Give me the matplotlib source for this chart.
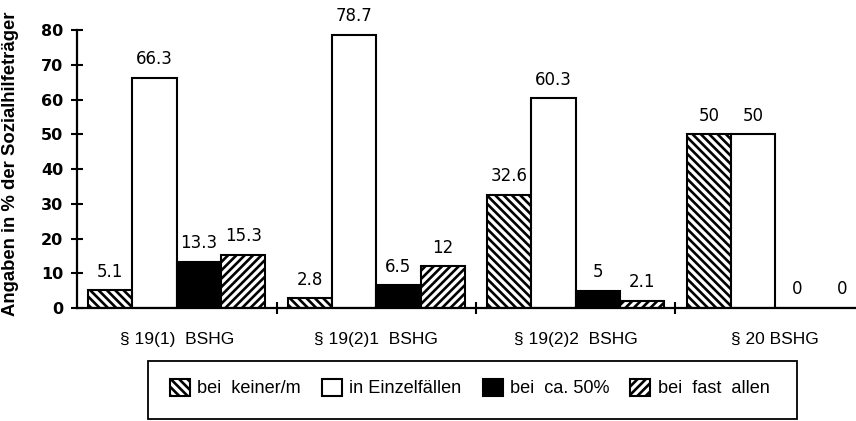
import numpy as np
import matplotlib
matplotlib.use("Agg")
import matplotlib.pyplot as plt
from matplotlib.patches import Rectangle

plt.rcParams['font.family'] = ['Liberation Sans', 'DejaVu Sans']
plt.rcParams['hatch.linewidth'] = 1.9

# Daten
categories = ['§ 19(1)  BSHG', '§ 19(2)1  BSHG', '§ 19(2)2  BSHG', '§ 20 BSHG']
series = ['bei  keiner/m', 'in Einzelfällen', 'bei  ca. 50%', 'bei  fast  allen']
keiner = [5.1, 2.8, 32.6, 50]
einzel = [66.3, 78.7, 60.3, 50]
haelfte = [13.3, 6.5, 5, 0]
fast_alle = [15.3, 12, 2.1, 0]
labels = [['5.1', '2.8', '32.6', '50'],
          ['66.3', '78.7', '60.3', '50'],
          ['13.3', '6.5', '5', '0'],
          ['15.3', '12', '2.1', '0']]

values = [keiner, einzel, haelfte, fast_alle]
faces = ['white', 'white', 'black', 'white']
hatches = ['\\\\\\\\', None, None, '////']

fig = plt.figure(figsize=(8.56, 4.21), dpi=100)
ax = fig.add_axes([0.090, 0.2684, 0.910, 0.6603])

x = np.arange(len(categories)) + 0.5
w = 0.222
for k, (vals, fc, h, name) in enumerate(zip(values, faces, hatches, series)):
    pos = x + (k - 1.5) * w
    ax.bar(pos, vals, width=w, facecolor=fc, edgecolor='black',
           linewidth=1.5, hatch=h, label=name, zorder=2)
    for p, v, t in zip(pos, vals, labels[k]):
        ax.annotate(t, (p, v), xytext=(0, 7), textcoords='offset points',
                    ha='center', va='bottom', fontsize=12,
                    family='DejaVu Sans', annotation_clip=False)

ax.set_xlim(0, 3.905)
ax.set_ylim(0, 80)
ax.spines['top'].set_visible(False)
ax.spines['right'].set_visible(False)
ax.spines['left'].set_linewidth(1.6)
ax.spines['bottom'].set_linewidth(1.6)

ax.set_yticks(np.arange(0, 81, 10))
ax.tick_params(axis='y', direction='inout', length=8, width=1.5, pad=6)
for lab in ax.get_yticklabels():
    lab.set_fontweight('bold')
    lab.set_family('DejaVu Sans')
    lab.set_fontsize(11.5)

ax.set_xticks([1, 2, 3])
ax.set_xticklabels([])
ax.tick_params(axis='x', which='major', direction='inout', length=8, width=1.5)
ax.set_xticks(x, minor=True)
ax.set_xticklabels(categories, minor=True)
ax.tick_params(axis='x', which='minor', length=0, pad=17, labelsize=12.5)

ax.set_ylabel('Angaben in % der Sozialhilfeträger', fontsize=13.3,
              fontweight='bold')
ax.yaxis.set_label_coords(-0.075, 0.52)

# Legende mit eigenem Rahmen
W, H = 856, 421
fig.add_artist(Rectangle((148 / W, 1 - 419 / H), (797 - 148) / W, 58 / H,
                         transform=fig.transFigure, facecolor='none',
                         edgecolor='black', linewidth=1.3))
leg = fig.legend(loc='center left', bbox_to_anchor=(161 / W, 1 - 388 / H),
                 ncol=4, fontsize=13.1, frameon=False, borderpad=0,
                 handlelength=1.1, handleheight=1.1,
                 handletextpad=0.4, columnspacing=1.15)

fig.savefig('out.png', dpi=100, facecolor='white')
